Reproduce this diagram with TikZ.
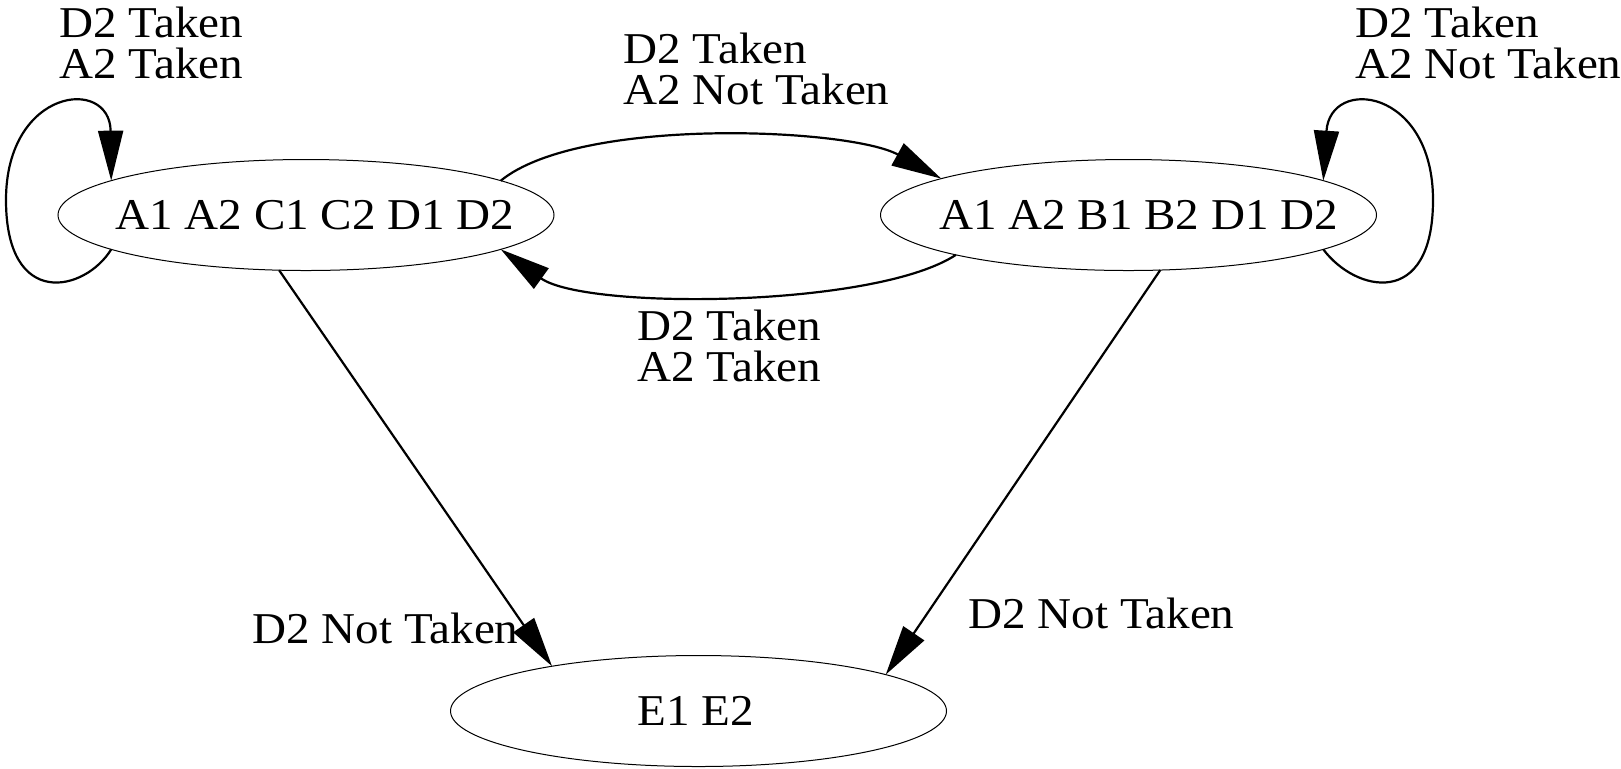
\documentclass[tikz,border=0pt]{standalone}
\usepackage{fontspec}
\setmainfont{Liberation Serif}[FakeStretch=1.07]
\usetikzlibrary{arrows.meta,shapes.geometric}

\tikzset{
  state/.style={ellipse, draw, line width=0.5pt, outer sep=0pt, inner sep=0pt,
    minimum width=248pt, minimum height=55.5pt,
    font=\fontsize{22}{20.5}\selectfont},
  trans/.style={line width=1.1pt, -{Triangle[length=25pt,width=12.5pt]}},
  cond/.style={anchor=north west, inner sep=0pt, align=left,
    font=\fontsize{22}{20.5}\selectfont},
}

\begin{document}
\begin{tikzpicture}[x=0.5pt,y=-0.5pt]
  \useasboundingbox (0,0) rectangle (1621,768);

  % states (labels nudged inside their ellipses)
  \node[state] (acd) at (306,215)    {\makebox[0pt]{\hspace{9pt}A1 A2 C1 C2 D1 D2}};
  \node[state] (abd) at (1128.5,215) {\makebox[0pt]{\hspace{10pt}A1 A2 B1 B2 D1 D2}};
  \node[state] (e)   at (698.5,711)  {\makebox[0pt]{E1 E2\hspace{3pt}}};

  % self loops
  \draw[trans] (acd.190) .. controls (85,292) and (6,310) .. (6,200)
                         .. controls (6,88) and (110,76) .. (acd.170);
  \draw[trans] (abd.350) .. controls (1355,292) and (1433,310) .. (1433,200)
                         .. controls (1433,88) and (1330,76) .. (abd.10);

  % transitions between the two upper states
  \draw[trans] (acd.10) .. controls (580,116) and (850,128) .. (abd.169);
  \draw[trans] (abd.193) .. controls (875,308) and (585,310) .. (acd.350);

  % transitions into the final state
  \draw[trans] (acd.244) -- (e.163);
  \draw[trans] (abd.300) -- (e.11);

  % conditions
  \node[cond] (c1) at (59,7)    {D2 Taken\\A2 Taken};
  \node[cond] (c2) at (623,33)  {D2 Taken\\A2 Not Taken};
  \node[cond] (c3) at (1355,7)  {D2 Taken\\A2 Not Taken};
  \node[cond] (c4) at (637,310) {D2 Taken\\A2 Taken};
  \node[cond] (c5) at (252,613) {D2 Not Taken};
  \node[cond] (c6) at (968,598) {D2 Not Taken};
\end{tikzpicture}
\end{document}
